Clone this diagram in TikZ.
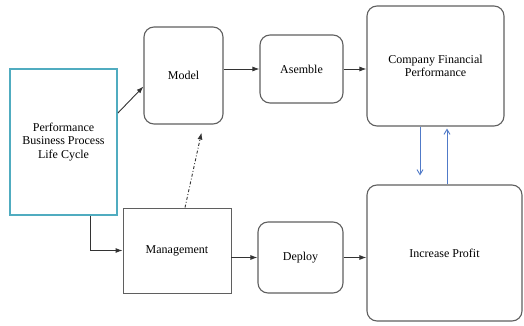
\documentclass[tikz,border=0pt]{standalone}
\usepackage{fontspec}
\setmainfont{Liberation Serif}
\usetikzlibrary{positioning,arrows.meta}

\definecolor{cycleteal}{RGB}{80,172,192}
\definecolor{linkblue}{RGB}{80,122,200}
\definecolor{boxgray}{RGB}{95,95,95}

\begin{document}
\begin{tikzpicture}[x=1pt,y=-1pt,
  every node/.style={font=\fontsize{12}{13.5}\selectfont, align=center, inner sep=0pt},
  stagebox/.style={draw=boxgray, line width=1.1pt, rounded corners=10pt},
  plainbox/.style={draw=boxgray, line width=0.9pt},
  cyclebox/.style={draw=cycleteal, line width=1.8pt},
  flow/.style={-{Latex[length=7pt,width=5pt]}, line width=0.9pt, draw=black!80},
  feedback/.style={-{Straight Barb[length=5pt,width=6pt]}, line width=0.9pt, draw=linkblue}]
\useasboundingbox (0,0) rectangle (524,326);
% boxes
\node[cyclebox, minimum width=107pt, minimum height=146pt] (life) at (63.5,142) {Performance\\Business Process\\Life Cycle};
\node[stagebox, minimum width=79pt, minimum height=97pt] (model) at (183.5,75.5) {Model};
\node[stagebox, minimum width=83pt, minimum height=68pt] (asemble) at (301.5,69) {Asemble};
\node[stagebox, minimum width=137pt, minimum height=120pt] (company) at (435.5,66) {Company Financial\\Performance};
\node[plainbox, minimum width=108pt, minimum height=85pt] (mgmt) at (177,250.5) {Management};
\node[stagebox, minimum width=85pt, minimum height=71pt] (deploy) at (300.5,257.5) {Deploy};
\node[stagebox, minimum width=155pt, minimum height=136pt] (profit) at (444.5,253) {Increase Profit};
% connectors
\draw[flow] ([yshift=29pt]life.east) -- ([yshift=-11pt]model.west);
\draw[flow] ([xshift=27pt]life.south) |- (mgmt.west);
\draw[flow, dash dot] ([xshift=8pt]mgmt.north) -- ([xshift=18pt,yshift=-8pt]model.south);
\draw[flow] (model.east |- asemble.west) -- (asemble.west);
\draw[flow] (asemble.east) -- (asemble.east -| company.west);
\draw[flow] (mgmt.east |- deploy.west) -- (deploy.west);
\draw[flow] (deploy.east) -- (deploy.east -| profit.west);
% blue links between the two right boxes
\coordinate (downlink) at ([xshift=-15.5pt]company.south);
\coordinate (uplink) at ([xshift=11.5pt]company.south);
\draw[feedback, shorten >=9pt] (downlink) -- (downlink |- profit.north);
\draw[feedback, shorten >=2pt] (uplink |- profit.north) -- (uplink);
\end{tikzpicture}
\end{document}
